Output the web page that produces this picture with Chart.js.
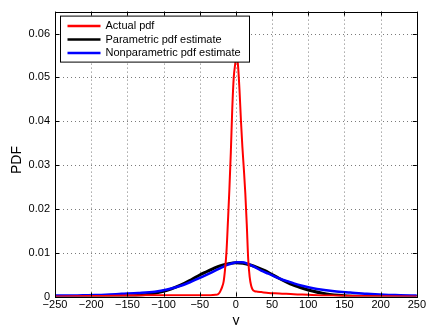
<!DOCTYPE html>
<html>
<head>
<meta charset="utf-8">
<script src="https://cdn.jsdelivr.net/npm/chart.js@4/dist/chart.umd.min.js"></script>
<style>
  html, body { margin: 0; padding: 0; background: #fff; }
  #wrap { width: 428px; height: 325px; position: relative; }
</style>
</head>
<body>
<div id="wrap"><canvas id="pdf-chart"></canvas></div>
<script>
// Tick positions on both axes
const xTicks = [-250, -200, -150, -100, -50, 0, 50, 100, 150, 200, 250];
const yTicks = [0, 0.01, 0.02, 0.03, 0.04, 0.05, 0.06];

const seriesLabels = ['Actual pdf', 'Parametric pdf estimate', 'Nonparametric pdf estimate'];

// Actual pdf (red)
const actualX = [-250, -200, -150, -130, -100, -70, -50, -35, -28, -25, -23, -21, -19, -17, -15, -13, -11, -9, -7, -5, -3, -1, 1, 3, 5, 7, 9, 11, 13, 15, 17, 19, 21, 23, 26, 30, 35, 45, 60, 80, 100, 130, 170, 210, 250];
const actualY = [0, 0.0001, 0.0002, 0.00025, 0.0003, 0.0003, 0.0003, 0.0003, 0.0004, 0.0005, 0.0008, 0.0014, 0.0022, 0.0034, 0.0062, 0.0103, 0.0172, 0.0245, 0.033, 0.043, 0.050, 0.053, 0.0555, 0.0525, 0.047, 0.040, 0.034, 0.029, 0.0235, 0.0165, 0.0085, 0.0045, 0.0025, 0.0016, 0.0012, 0.0011, 0.0010, 0.0008, 0.0007, 0.0005, 0.0004, 0.0002, 0.0001, 0.00005, 0];

// Parametric estimate (black)
const paramX = [-250, -200, -175, -150, -125, -100, -90, -75, -60, -50, -40, -30, -20, -10, 0, 10, 20, 30, 40, 50, 60, 75, 90, 100, 125, 150, 175, 200, 250];
const paramY = [0, 0.00001, 0.00003, 0.00012, 0.00043, 0.0012, 0.0017, 0.0027, 0.0040, 0.0049, 0.0057, 0.0065, 0.0071, 0.0075, 0.0077, 0.0076, 0.0072, 0.0066, 0.0059, 0.0050, 0.0041, 0.0029, 0.0020, 0.0015, 0.0006, 0.0002, 0.00005, 0.00001, 0];

// Nonparametric estimate (blue)
const kernelX = [-250, -225, -204, -180, -158, -135, -112, -95, -75, -60, -53, -40, -30, -20, -12, -5, 2, 8, 16, 25, 35, 45, 53, 62, 71, 80, 90, 100, 112, 125, 136, 158, 181, 205, 227, 250];
const kernelY = [0.0002, 0.0002, 0.0003, 0.0004, 0.0006, 0.0008, 0.0011, 0.0016, 0.0025, 0.0035, 0.0040, 0.0050, 0.0058, 0.0066, 0.0072, 0.0076, 0.0078, 0.0078, 0.0075, 0.0068, 0.0059, 0.0052, 0.0046, 0.0040, 0.0035, 0.0030, 0.0025, 0.0021, 0.0017, 0.0014, 0.0012, 0.0009, 0.0006, 0.0004, 0.0003, 0.0002];

const toPoints = (xs, ys) => xs.map((x, i) => ({ x, y: ys[i] }));
const FONT = '"Liberation Sans", Arial, Helvetica, sans-serif';
const minus = v => String(v).replace('-', '\u2212');

// MATLAB style: dotted grid, boxed axes with inward ticks, legend box, axis titles
const matlabAxes = {
  id: 'matlabAxes',
  beforeDatasetsDraw(chart) {
    const { ctx, chartArea: a, scales: { x, y } } = chart;
    ctx.save();
    ctx.strokeStyle = '#7a7a7a';
    ctx.lineWidth = 1;
    ctx.setLineDash([1, 3]);
    xTicks.slice(1, -1).forEach(v => {
      const px = Math.round(x.getPixelForValue(v)) + 0.5;
      ctx.beginPath(); ctx.moveTo(px, a.top); ctx.lineTo(px, a.bottom); ctx.stroke();
    });
    yTicks.slice(1).forEach(v => {
      const py = Math.round(y.getPixelForValue(v)) + 0.5;
      ctx.beginPath(); ctx.moveTo(a.left, py); ctx.lineTo(a.right, py); ctx.stroke();
    });
    ctx.restore();
  },
  afterDatasetsDraw(chart) {
    const { ctx, chartArea: a, scales: { x, y } } = chart;
    ctx.save();
    ctx.strokeStyle = '#000';
    ctx.lineWidth = 1;
    ctx.setLineDash([]);
    ctx.strokeRect(Math.round(a.left) + 0.5, Math.round(a.top) + 0.5, Math.round(a.right - a.left), Math.round(a.bottom - a.top));
    const len = 4;
    ctx.beginPath();
    xTicks.forEach(v => {
      const px = Math.round(x.getPixelForValue(v)) + 0.5;
      ctx.moveTo(px, a.bottom); ctx.lineTo(px, a.bottom - len);
      ctx.moveTo(px, a.top); ctx.lineTo(px, a.top + len);
    });
    yTicks.forEach(v => {
      const py = Math.round(y.getPixelForValue(v)) + 0.5;
      ctx.moveTo(a.left, py); ctx.lineTo(a.left + len, py);
      ctx.moveTo(a.right, py); ctx.lineTo(a.right - len, py);
    });
    ctx.stroke();

    // legend box in the upper left corner
    const bx = a.left + 5.5, by = a.top + 4.5, bw = 189, bh = 46;
    ctx.fillStyle = '#fff';
    ctx.fillRect(bx, by, bw, bh);
    ctx.strokeRect(bx, by, bw, bh);
    ctx.font = '11px ' + FONT;
    ctx.textBaseline = 'middle';
    chart.data.datasets.forEach((ds, i) => {
      const ly = by + 10 + i * 13.5;
      ctx.strokeStyle = ds.borderColor;
      ctx.lineWidth = 2.5;
      ctx.beginPath(); ctx.moveTo(bx + 7, ly); ctx.lineTo(bx + 40, ly); ctx.stroke();
      ctx.fillStyle = '#000';
      ctx.fillText(ds.label, bx + 45, ly);
    });
    ctx.restore();
  },
  afterDraw(chart) {
    const { ctx, chartArea: a } = chart;
    ctx.save();
    ctx.fillStyle = '#000';
    ctx.font = '14px ' + FONT;
    ctx.textAlign = 'center';
    ctx.textBaseline = 'middle';
    ctx.fillText('y', (a.left + a.right) / 2, 321);
    ctx.translate(17, (a.top + a.bottom) / 2 + 6);
    ctx.rotate(-Math.PI / 2);
    ctx.fillText('PDF', 0, 0);
    ctx.restore();
  },
};

new Chart(document.getElementById('pdf-chart'), {
  type: 'line',
  data: {
    datasets: [
      { label: seriesLabels[0], data: toPoints(actualX, actualY), borderColor: '#ff0000', borderWidth: 2, order: 0 },
      { label: seriesLabels[1], data: toPoints(paramX, paramY), borderColor: '#000000', borderWidth: 3, order: 2 },
      { label: seriesLabels[2], data: toPoints(kernelX, kernelY), borderColor: '#0000ff', borderWidth: 2.5, order: 1 },
    ],
  },
  options: {
    responsive: true,
    maintainAspectRatio: false,
    devicePixelRatio: 1,
    animation: false,
    layout: { padding: { top: 10, right: 10, left: 0, bottom: 0 } },
    elements: {
      point: { radius: 0 },
      line: { cubicInterpolationMode: 'monotone', fill: false },
    },
    scales: {
      x: {
        type: 'linear',
        min: -250,
        max: 250,
        afterBuildTicks: s => { s.ticks = xTicks.map(value => ({ value })); },
        afterFit: s => { s.height = 28.5; },
        grid: { display: false, drawTicks: false },
        border: { display: false },
        ticks: { color: '#000', padding: 2, maxRotation: 0, autoSkip: false, font: { family: FONT, size: 11 }, callback: v => minus(v) },
      },
      y: {
        min: 0,
        max: 0.065,
        afterBuildTicks: s => { s.ticks = yTicks.map(value => ({ value })); },
        afterFit: s => { s.width = 55; },
        grid: { display: false, drawTicks: false },
        border: { display: false },
        ticks: { color: '#000', padding: 5, font: { family: FONT, size: 11 }, callback: v => String(+v.toFixed(2)) },
      },
    },
    plugins: {
      legend: { display: false },
      tooltip: { enabled: false },
    },
  },
  plugins: [matlabAxes],
});
</script>
</body>
</html>
